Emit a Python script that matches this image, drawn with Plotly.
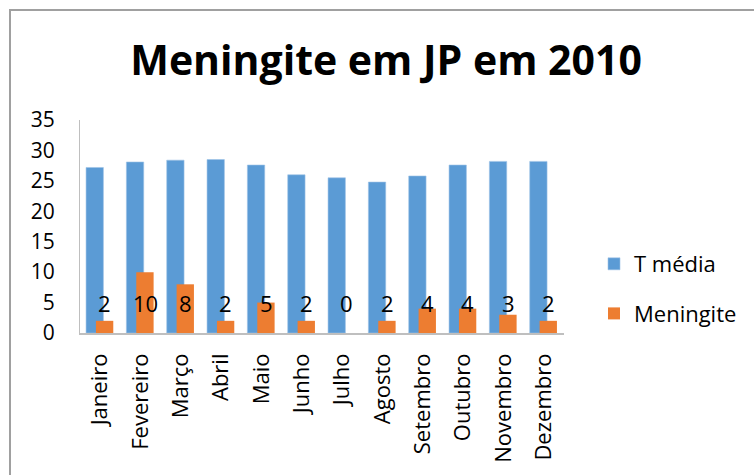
import plotly.graph_objects as go

months = ["Janeiro", "Fevereiro", "Março", "Abril", "Maio", "Junho", "Julho",
          "Agosto", "Setembro", "Outubro", "Novembro", "Dezembro"]
t_media = [27.2, 28.1, 28.4, 28.5, 27.6, 26.0, 25.5, 24.8, 25.8, 27.6, 28.2, 28.2]
meningite = [2, 10, 8, 2, 5, 2, 0, 2, 4, 4, 3, 2]
label_y = 4.9

W, H = 754, 475
ML, MR, MT, MB = 80, 190, 120, 142
FONT = "Open Sans"
pw, ph = W - ML - MR, H - MT - MB

fig = go.Figure()
fig.add_trace(go.Bar(x=months, y=t_media, name="T média", marker_color="#5B9BD5",
                     marker_line=dict(color="#9DC3E6", width=0.6),
                     width=0.43, offset=-0.35, legendgroup="a"))
fig.add_trace(go.Bar(x=months, y=meningite, name="Meningite", marker_color="#ED7D31",
                     marker_line=dict(width=0),
                     width=0.43, offset=-0.105, legendgroup="b"))

for m, v in zip(months, meningite):
    fig.add_annotation(x=m, y=label_y, text=str(v), showarrow=False,
                       xshift=4.5, font=dict(family=FONT, size=22, color="black"))

fig.update_layout(
    width=W, height=H,
    margin=dict(l=ML, r=MR, t=MT, b=MB, autoexpand=False),
    paper_bgcolor="white", plot_bgcolor="white",
    barmode="overlay",
    title=dict(text="<b>Meningite em JP em 2010</b>", font=dict(family=FONT, size=41, color="black"),
               x=0.512, xanchor="center", y=1 - 61 / H, yanchor="middle", xref="container", yref="container"),
    font=dict(family=FONT, color="black"),
    showlegend=True,
    legend=dict(x=(594 - ML) / pw, y=1 - (243 - MT) / ph, xanchor="left", yanchor="top",
                font=dict(family=FONT, size=22), tracegroupgap=18, bgcolor="rgba(0,0,0,0)"),
    xaxis=dict(type="category", tickangle=-90, tickfont=dict(family=FONT, size=22),
               showline=True, linecolor="#BFBFBF", linewidth=1.5, showgrid=False,
               ticks="outside", ticklen=10, tickcolor="rgba(0,0,0,0)",
               range=[-0.5, 11.5], automargin=False),
    yaxis=dict(range=[0, 35], dtick=5, tickfont=dict(family=FONT, size=21),
               showline=True, linecolor="#BFBFBF", linewidth=1, showgrid=False, zeroline=False,
               ticks="outside", ticklen=20, tickcolor="rgba(0,0,0,0)", automargin=False),
)

fig.add_shape(type="rect", xref="paper", yref="paper",
              x0=(10 - ML) / pw, x1=(W + 10 - ML) / pw,
              y0=-(MB + 10) / ph, y1=1 + (MT - 10) / ph,
              line=dict(color="#A0A0A0", width=2), fillcolor="rgba(0,0,0,0)", layer="below")

fig.write_html("out.html", config={"displayModeBar": False},
               post_script="document.body.style.margin='0';document.body.style.overflow='hidden';")
